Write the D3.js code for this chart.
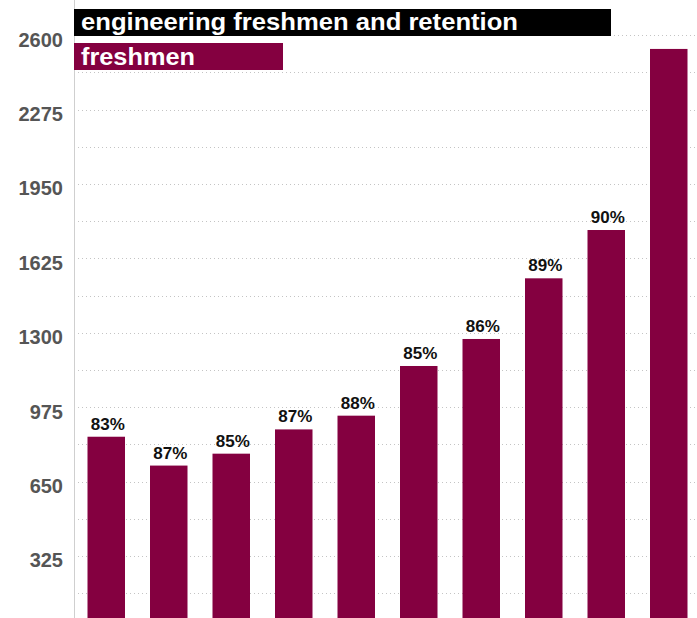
<!DOCTYPE html>
<html>
<head>
<meta charset="utf-8">
<script src="https://cdn.jsdelivr.net/npm/d3@7"></script>
<style>
  html, body { margin: 0; padding: 0; background: #fff; }
  svg { display: block; font-family: "Liberation Sans", Arial, Helvetica, sans-serif; }
</style>
</head>
<body>
<svg id="chart" width="697" height="618"></svg>
<script>
// Engineering freshmen per cohort, with first-year retention rate above each bar
const cohorts = ["1", "2", "3", "4", "5", "6", "7", "8", "9", "10"];
const freshmen = [846, 720, 772, 878, 938, 1155, 1273, 1538, 1749, 2540];
const retention = ["83%", "87%", "85%", "87%", "88%", "85%", "86%", "89%", "90%", ""];
const yTicks = [325, 650, 975, 1300, 1625, 1950, 2275, 2600];
const gridValues = d3.range(162.5, 2600.1, 162.5);
const titleText = "engineering freshmen and retention";
const seriesText = "freshmen";

const W = 697, H = 618;
const left = 74, right = 697;
const barColor = "#840040";

const svg = d3.select("#chart");

const x = d3.scaleBand()
  .domain(cohorts)
  .range([75, 700])
  .paddingInner(0.4)
  .paddingOuter(0.2);

const y = d3.scaleLinear()
  .domain([0, 2600])
  .range([630.4, 35.2]);

// dotted horizontal gridlines
svg.append("g")
  .selectAll("line")
  .data(gridValues)
  .join("line")
  .attr("x1", left)
  .attr("x2", right)
  .attr("y1", d => Math.round(y(d)) + 0.5)
  .attr("y2", d => Math.round(y(d)) + 0.5)
  .attr("stroke", "#c4c4c4")
  .attr("stroke-width", 1)
  .attr("stroke-dasharray", "1,3");

// left axis line
svg.append("line")
  .attr("x1", left + 0.5).attr("x2", left + 0.5)
  .attr("y1", 0).attr("y2", H)
  .attr("stroke", "#cfcfcf");

// y axis labels
const yAxis = d3.axisLeft(y)
  .tickValues(yTicks)
  .tickFormat(d3.format("d"))
  .tickSize(0)
  .tickPadding(11);
const gy = svg.append("g").attr("transform", `translate(${left},0)`).call(yAxis);
gy.select(".domain").remove();
gy.selectAll("text")
  .attr("dy", "0.32em")
  .attr("y", 4.5)
  .style("font-family", "'Liberation Sans', Arial, sans-serif")
  .style("font-size", "20px")
  .style("font-weight", "bold")
  .style("fill", "#555");

// bars
svg.append("g")
  .selectAll("rect")
  .data(cohorts)
  .join("rect")
  .attr("x", d => x(d))
  .attr("width", x.bandwidth())
  .attr("y", (d, i) => y(freshmen[i]))
  .attr("height", (d, i) => y(0) - y(freshmen[i]))
  .attr("fill", barColor);

// retention labels
svg.append("g")
  .selectAll("text")
  .data(cohorts)
  .join("text")
  .attr("x", d => x(d) + x.bandwidth() / 2 + 1.5)
  .attr("y", (d, i) => y(freshmen[i]) - 7)
  .attr("text-anchor", "middle")
  .style("font-size", "17px")
  .style("font-weight", "bold")
  .style("fill", "#111")
  .text((d, i) => retention[i]);

// title block
svg.append("rect")
  .attr("x", left).attr("y", 9)
  .attr("width", 611 - left).attr("height", 27)
  .attr("fill", "#000");
svg.append("text")
  .attr("x", 81).attr("y", 29.5)
  .attr("textLength", 437)
  .attr("lengthAdjust", "spacingAndGlyphs")
  .style("font-size", "24px")
  .style("font-weight", "bold")
  .style("fill", "#fff")
  .text(titleText);

// series legend block
svg.append("rect")
  .attr("x", left).attr("y", 43)
  .attr("width", 283 - left).attr("height", 27)
  .attr("fill", barColor);
svg.append("text")
  .attr("x", 81).attr("y", 65)
  .attr("textLength", 114)
  .attr("lengthAdjust", "spacingAndGlyphs")
  .style("font-size", "24px")
  .style("font-weight", "bold")
  .style("fill", "#fff")
  .text(seriesText);
</script>
</body>
</html>
